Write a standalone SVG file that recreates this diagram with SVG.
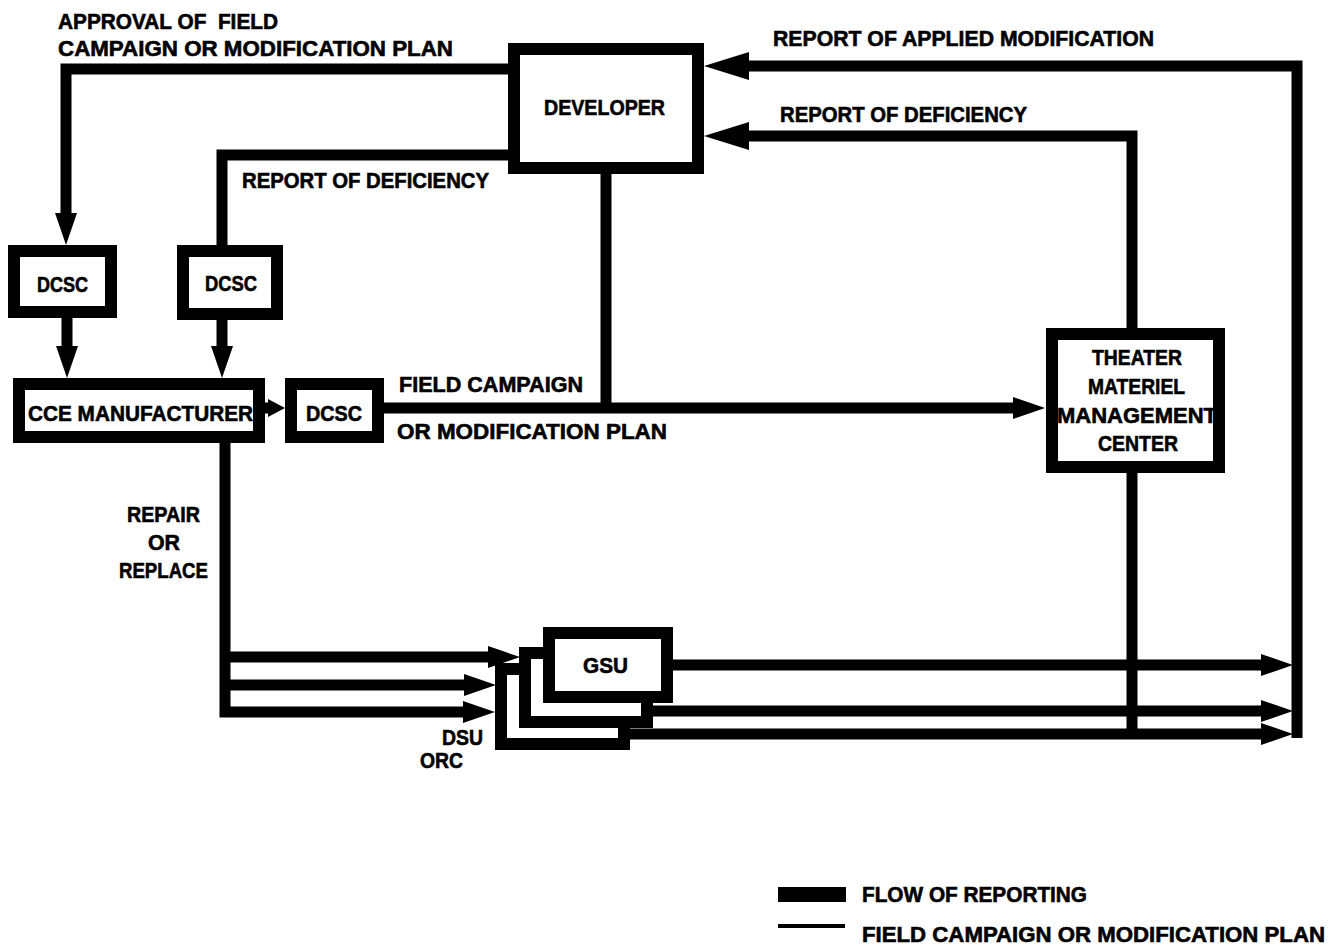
<svg xmlns="http://www.w3.org/2000/svg" width="1341" height="949" viewBox="0 0 1341 949">
<style>
.t{font-family:"Liberation Sans",Arial,sans-serif;font-weight:bold;font-size:22px;fill:#000;stroke:#000;stroke-width:0.6;white-space:pre}
.box{fill:#fff;stroke:#000;stroke-width:12;stroke-linejoin:miter}
.c{fill:none;stroke:#000;stroke-width:11;stroke-linejoin:miter;stroke-linecap:butt}
</style>
<defs>
<marker id="ahL" markerUnits="userSpaceOnUse" viewBox="0 0 45 28" markerWidth="45" markerHeight="28" refX="0" refY="14" orient="auto"><path d="M0,0 L45,14 L0,28 z" fill="#000"/></marker>
<marker id="ahM" markerUnits="userSpaceOnUse" viewBox="0 0 32 22" markerWidth="32" markerHeight="22" refX="0" refY="11" orient="auto"><path d="M0,0 L32,11 L0,22 z" fill="#000"/></marker>
<marker id="ahS" markerUnits="userSpaceOnUse" viewBox="0 0 17 18" markerWidth="17" markerHeight="18" refX="0" refY="9" orient="auto"><path d="M0,0 L17,9 L0,18 z" fill="#000"/></marker>
</defs>
<rect width="1341" height="949" fill="#fff"/>
<g id="connectors">
<path class="c" d="M508,69 H66 V213" marker-end="url(#ahM)"/>
<path class="c" d="M508,155 H222 V245"/>
<path class="c" d="M67,318 V346" marker-end="url(#ahM)"/>
<path class="c" d="M222,318 V346" marker-end="url(#ahM)"/>
<path class="c" d="M264,408 H268" marker-end="url(#ahS)"/>
<path class="c" d="M384,408 H1013" marker-end="url(#ahM)"/>
<path class="c" d="M606,174 V408"/>
<path class="c" d="M1297,738 V66 H749" marker-end="url(#ahL)"/>
<path class="c" d="M1132,328 V136 H749" marker-end="url(#ahL)"/>
<path class="c" d="M1132,473 V739"/>
<path class="c" d="M225,443 V712 H463" marker-end="url(#ahM)"/>
<path class="c" d="M225,657 H488" marker-end="url(#ahM)"/>
<path class="c" d="M225,685 H464" marker-end="url(#ahM)"/>
<path class="c" d="M673,665 H1261" marker-end="url(#ahM)"/>
<path class="c" d="M653,711 H1261" marker-end="url(#ahM)"/>
<path class="c" d="M630,734 H1261" marker-end="url(#ahM)"/>
</g>
<g id="labels">
<text class="t" x="58" y="28.5" textLength="220" lengthAdjust="spacingAndGlyphs">APPROVAL OF  FIELD</text>
<text class="t" x="58" y="55.5" textLength="395" lengthAdjust="spacingAndGlyphs">CAMPAIGN OR MODIFICATION PLAN</text>
<text class="t" x="242" y="188" textLength="247" lengthAdjust="spacingAndGlyphs">REPORT OF DEFICIENCY</text>
<text class="t" x="399" y="392" textLength="184" lengthAdjust="spacingAndGlyphs">FIELD CAMPAIGN</text>
<text class="t" x="397" y="439" textLength="270" lengthAdjust="spacingAndGlyphs">OR MODIFICATION PLAN</text>
<text class="t" x="773" y="46" textLength="381" lengthAdjust="spacingAndGlyphs">REPORT OF APPLIED MODIFICATION</text>
<text class="t" x="780" y="122" textLength="247" lengthAdjust="spacingAndGlyphs">REPORT OF DEFICIENCY</text>
<text class="t" x="127" y="521.5" textLength="73" lengthAdjust="spacingAndGlyphs">REPAIR</text>
<text class="t" x="148" y="549.5" textLength="32" lengthAdjust="spacingAndGlyphs">OR</text>
<text class="t" x="119" y="577.5" textLength="89" lengthAdjust="spacingAndGlyphs">REPLACE</text>
<text class="t" x="442" y="744.5" textLength="41" lengthAdjust="spacingAndGlyphs">DSU</text>
<text class="t" x="420" y="767.5" textLength="43" lengthAdjust="spacingAndGlyphs">ORC</text>
</g>
<g id="developer">
<rect class="box" x="514" y="49" width="184" height="119"/>
<text class="t" x="544" y="115" textLength="121" lengthAdjust="spacingAndGlyphs">DEVELOPER</text>
</g>
<g id="dcsc1">
<rect class="box" x="14" y="251" width="97" height="61"/>
<text class="t" x="37" y="292" textLength="51" lengthAdjust="spacingAndGlyphs">DCSC</text>
</g>
<g id="dcsc2">
<rect class="box" x="183" y="251" width="94" height="63"/>
<text class="t" x="205" y="291" textLength="52" lengthAdjust="spacingAndGlyphs">DCSC</text>
</g>
<g id="cce">
<rect class="box" x="19" y="384" width="240" height="53"/>
<text class="t" x="28" y="420.5" textLength="225" lengthAdjust="spacingAndGlyphs">CCE MANUFACTURER</text>
</g>
<g id="dcsc3">
<rect class="box" x="291" y="384" width="87" height="53"/>
<text class="t" x="306" y="420.5" textLength="56" lengthAdjust="spacingAndGlyphs">DCSC</text>
</g>
<g id="tmmc">
<rect class="box" x="1052" y="334" width="167" height="133"/>
<text class="t" x="1092" y="365" textLength="90" lengthAdjust="spacingAndGlyphs">THEATER</text>
<text class="t" x="1088" y="394" textLength="97" lengthAdjust="spacingAndGlyphs">MATERIEL</text>
<text class="t" x="1057" y="422.5" textLength="160" lengthAdjust="spacingAndGlyphs">MANAGEMENT</text>
<text class="t" x="1098" y="451" textLength="80" lengthAdjust="spacingAndGlyphs">CENTER</text>
</g>
<g id="orc">
<rect class="box" x="501" y="669" width="123" height="75"/>
</g>
<g id="dsu">
<rect class="box" x="525" y="653" width="122" height="69"/>
</g>
<g id="gsu">
<rect class="box" x="549" y="633" width="118" height="64"/>
<text class="t" x="583" y="673" textLength="45" lengthAdjust="spacingAndGlyphs">GSU</text>
</g>
<g id="legend">
<rect x="778" y="887" width="68" height="15" fill="#000"/>
<path d="M778,926 H845" stroke="#000" stroke-width="4" fill="none"/>
<text class="t" x="862" y="902" textLength="225" lengthAdjust="spacingAndGlyphs">FLOW OF REPORTING</text>
<text class="t" x="862" y="942" textLength="463" lengthAdjust="spacingAndGlyphs">FIELD CAMPAIGN OR MODIFICATION PLAN</text>
</g>
</svg>
